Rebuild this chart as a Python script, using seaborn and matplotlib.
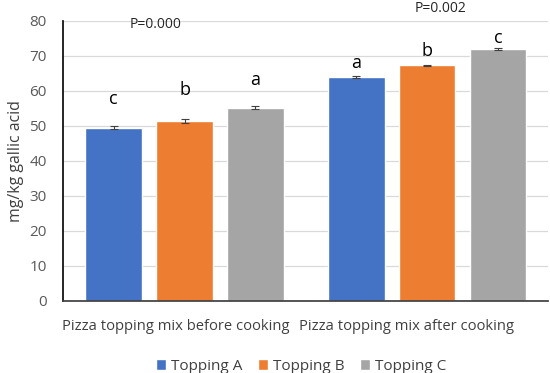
import matplotlib
matplotlib.use('Agg')
import matplotlib.pyplot as plt
from matplotlib.transforms import ScaledTranslation
import seaborn as sns
import pandas as pd

groups = ['Pizza topping mix before cooking', 'Pizza topping mix after cooking']
toppings = ['Topping A', 'Topping B', 'Topping C']
before = [49.5, 51.3, 55.2]
after = [63.9, 67.3, 72.0]
err_before = [0.3, 0.5, 0.5]
err_after = [0.2, 0.2, 0.2]
letters_before = ['c', 'b', 'a']
letters_after = ['a', 'b', 'c']
letter_y_before = [57.6, 60.2, 63.0]
letter_y_after = [68.0, 71.4, 75.0]
p_texts = ['P=0.000', 'P=0.002']
p_y = [78.9, 83.6]

colors = ['#4472C4', '#ED7D31', '#A5A5A5']

df = pd.DataFrame({
    'group': [groups[0]] * 3 + [groups[1]] * 3,
    'topping': toppings * 2,
    'value': before + after,
    'err': err_before + err_after,
})

sns.set_theme(style='white')
plt.rcParams['font.family'] = ['Open Sans', 'DejaVu Sans']

fig, ax = plt.subplots(figsize=(5.5, 3.73), dpi=100)
sns.barplot(data=df, x='group', y='value', hue='topping', palette=colors,
            width=0.875, gap=0.2, saturation=1, errorbar=None, ax=ax, zorder=2)

# error bars and letters at bar centers
bar_sets = list(ax.containers)
for i, cont in enumerate(bar_sets):
    for j, bar in enumerate(cont):
        xc = bar.get_x() + bar.get_width() / 2
        e = [err_before, err_after][j][i]
        ax.errorbar(xc, bar.get_height(), yerr=e, color='#404040', capsize=3,
                    elinewidth=0.8, capthick=0.8, zorder=3)
        lt = [letters_before, letters_after][j][i]
        ly = [letter_y_before, letter_y_after][j][i]
        ax.text(xc, ly, lt, ha='center', va='center', fontsize=13, color='black')

ax.text(-0.12, p_y[0], p_texts[0], ha='center', va='center', fontsize=10, clip_on=False)
ax.text(1.055, p_y[1], p_texts[1], ha='center', va='center', fontsize=10, clip_on=False)

ax.set_ylim(0, 80)
ax.set_yticks(range(0, 81, 10))
ax.set_xlim(-0.5, 1.5)
ax.yaxis.grid(True, color='#D9D9D9', linewidth=0.9, zorder=0)
ax.set_axisbelow(True)
ax.set_xlabel('')
ax.set_ylabel('mg/kg gallic acid', fontsize=11.4, color='#404040', labelpad=4)
ax.tick_params(axis='y', length=0, labelsize=11, colors='#595959', pad=12)
ax.tick_params(axis='x', length=0, labelsize=10.6, colors='#404040', pad=13)
for s in ['top', 'right']:
    ax.spines[s].set_visible(False)
ax.spines['left'].set_color('black')
ax.spines['bottom'].set_color('#404040')
ax.spines['left'].set_linewidth(1.2)

# category labels sit a little left of the group centers, as in the original
for lab, dx in zip(ax.get_xticklabels(), [-9, -21]):
    lab.set_transform(lab.get_transform() + ScaledTranslation(dx / 100, 0, fig.dpi_scale_trans))

ax.legend(loc='upper center', bbox_to_anchor=(0.49, -0.16), ncol=3, frameon=False,
          fontsize=11, handlelength=0.7, handleheight=0.7, columnspacing=1.0,
          handletextpad=0.3, labelcolor='#404040')

plt.subplots_adjust(left=0.115, right=0.997, top=0.944, bottom=0.194)
fig.savefig('out.png', dpi=100)
